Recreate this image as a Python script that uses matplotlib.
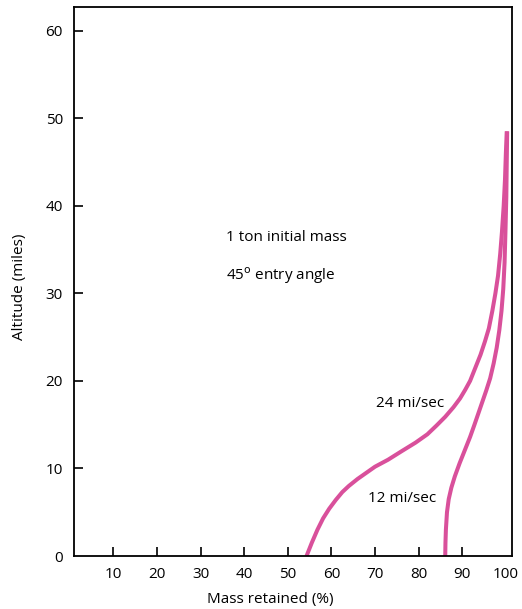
import matplotlib
matplotlib.use('Agg')
from matplotlib import pyplot as plt

# --- data ---
alt_24 = [0, 1.5, 3.0, 4.3, 5.4, 6.4, 7.3, 8.0, 8.8, 9.5, 10.2, 11.0, 12.0, 12.95, 13.9, 14.9,
          15.9, 17.0, 18.0, 19.0, 20.0, 21.5, 23.0, 24.5, 26.0, 28.0, 30.0, 32.0, 34.5,
          37.0, 40.0, 43.0, 46.0, 48.5]
mass_24 = [54.3, 55.5, 56.8, 58.1, 59.5, 61.0, 62.5, 64.0, 66.0, 68.0, 70.0, 73.0, 76.2, 79.3, 82.0, 84.1,
           86.1, 88.0, 89.5, 90.7, 91.8, 93.0, 94.2, 95.2, 96.1, 96.9, 97.6, 98.2, 98.7,
           99.1, 99.5, 99.8, 100.0, 100.2]

alt_12 = [0, 1.5, 3.0, 5.0, 6.5, 7.8, 9.1, 10.6, 12.1, 13.6, 15.0, 16.3, 17.6, 18.9, 20.3,
          22.0, 23.8, 25.8, 28.0, 30.5, 33.5, 37.0, 41.0, 45.0, 48.5]
mass_12 = [86.1, 86.15, 86.25, 86.5, 86.9, 87.5, 88.3, 89.4, 90.6, 91.8, 92.8, 93.7, 94.6, 95.5, 96.4,
           97.2, 97.9, 98.5, 99.0, 99.4, 99.7, 99.9, 100.1, 100.2, 100.3]

x_ticks = [10, 20, 30, 40, 50, 60, 70, 80, 90, 100]
y_ticks = [0, 10, 20, 30, 40, 50, 60]

pink = '#d9509b'
fSize = 11
plt.rcParams['font.family'] = ['Open Sans', 'DejaVu Sans']

fig = plt.figure(figsize=(5.22, 6.09), dpi=100)
ax = fig.add_axes([0.1418, 0.0870, 0.8390, 0.9015])

ax.plot(mass_24, alt_24, color=pink, lw=2.9, solid_capstyle='butt', solid_joinstyle='round')
ax.plot(mass_12, alt_12, color=pink, lw=2.9, solid_capstyle='butt', solid_joinstyle='round')

ax.set_xlim(1, 101.4)
ax.set_ylim(0, 62.7)
ax.set_xticks(x_ticks)
ax.set_yticks(y_ticks)
ax.tick_params(direction='in', length=6.5, width=1.2, labelsize=fSize, pad=8)
# no tick marks at the corners, only labels
ax.xaxis.get_major_ticks()[-1].tick1line.set_visible(False)
ax.yaxis.get_major_ticks()[0].tick1line.set_visible(False)
for s in ax.spines.values():
    s.set_linewidth(1.3)

ax.set_xlabel('Mass retained (%)', fontsize=fSize)
ax.xaxis.set_label_coords(0.447, -0.065)
ax.set_ylabel('Altitude (miles)', fontsize=fSize)
ax.yaxis.set_label_coords(-0.108, 0.49)

ax.text(49.6, 36.4, '1 ton initial mass', fontsize=fSize, ha='center', va='center')
ax.text(48.4, 32.0, r'45$^{\mathrm{o}}$ entry angle', fontsize=fSize, ha='center', va='center')
ax.text(78.0, 17.4, '24 mi/sec', fontsize=fSize, ha='center', va='center')
ax.text(76.2, 6.6, '12 mi/sec', fontsize=fSize, ha='center', va='center')

plt.savefig('out.png', dpi=100)
